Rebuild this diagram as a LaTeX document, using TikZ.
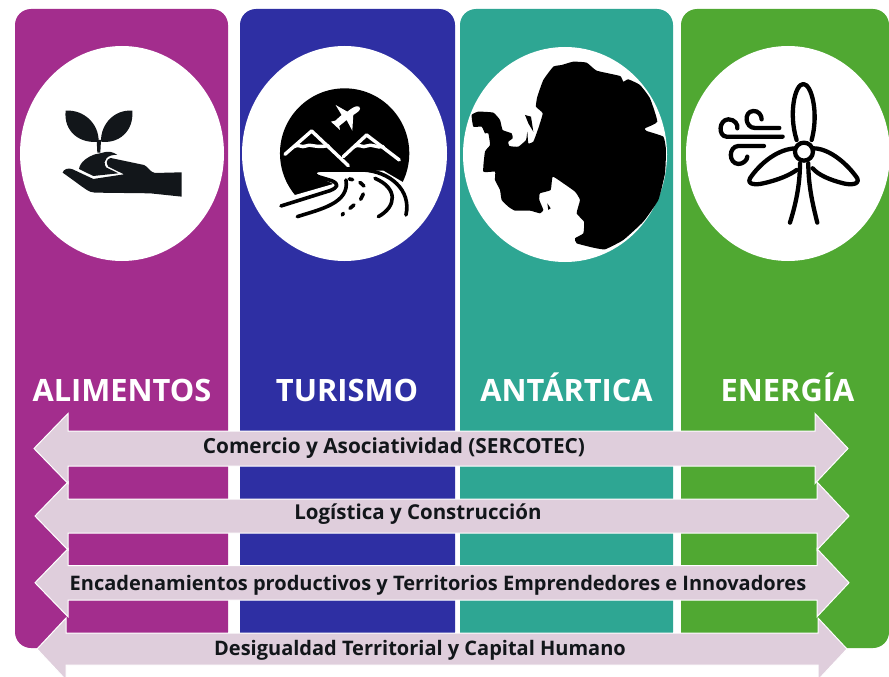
\documentclass[tikz,border=0pt]{standalone}
\usepackage{fontspec}
\setmainfont{Open Sans}
\definecolor{cMag}{HTML}{A32D8D}
\definecolor{cBlu}{HTML}{2E2FA3}
\definecolor{cTea}{HTML}{2EA693}
\definecolor{cGre}{HTML}{50A832}
\definecolor{cArr}{HTML}{DFCEDC}
\definecolor{cInk}{HTML}{12161A}
\tikzset{
  column/.style={fill=#1,rounded corners=16pt,draw=none},
  disc/.style={fill=white,draw=none},
  band/.style={fill=cArr,draw=white,line width=1pt,line join=miter},
  title/.style={text=white,font=\bfseries\fontsize{30.8}{32}\selectfont,inner sep=0pt,anchor=base},
  bandtext/.style={text=cInk,font=\bfseries\fontsize{#1}{22}\selectfont,inner sep=0pt,anchor=base},
  zoomA/.style={x=0.3333pt,y=-0.3333pt},
  icon/.style={line width=4.3pt,line cap=round,line join=round,draw=black,fill=none},
}
\newcommand{\bandarrow}[8]{% name, tipL, baseL, baseR, tipR, ytop shaft, ybot shaft, head half
  \path (#2,{(#6+#7)/2}) coordinate (#1L) (#5,{(#6+#7)/2}) coordinate (#1R);
  \draw[band] (#1L) -- (#3,{(#6+#7)/2-#8}) -- (#3,#6) -- (#4,#6) -- (#4,{(#6+#7)/2-#8})
    -- (#1R) -- (#4,{(#6+#7)/2+#8}) -- (#4,#7) -- (#3,#7) -- (#3,{(#6+#7)/2+#8}) -- cycle;
}
\begin{document}
\begin{tikzpicture}[x=1pt,y=-1pt]
\useasboundingbox (0,0) rectangle (889,677);
\clip (0,0) rectangle (889,677);
\fill[white] (0,0) rectangle (889,677);
% columns
\fill[column=cMag] (15,9) rectangle (228,648);
\fill[column=cBlu] (240,9) rectangle (455,648);
\fill[column=cTea] (460,9) rectangle (673,648);
\fill[column=cGre] (681,9) rectangle (889,648);
% discs
\fill[disc] (122,153.5) ellipse [x radius=102,y radius=107.5];
\fill[disc] (344.5,153.5) ellipse [x radius=102.5,y radius=107.5];
\fill[disc] (565,154.5) ellipse [x radius=102,y radius=107.5];
\fill[disc] (788,153.5) ellipse [x radius=102,y radius=107.5];
% icon 1: hand with sprout
\begin{scope}[zoomA]
\fill[cInk] (197,332) .. controls (250,328) and (297,370) .. (296,425) .. controls (240,432) and (190,395) .. (197,332) -- cycle;
\fill[cInk] (397,332) .. controls (345,328) and (302,370) .. (303,425) .. controls (355,432) and (402,395) .. (397,332) -- cycle;
\fill[cInk] (290,420) -- (303,420) -- (301,458) -- (292,458) -- cycle;
\fill[cInk] (237,507) .. controls (240,485) and (265,470) .. (285,463) .. controls (305,462) and (325,445) .. (352,465)
  .. controls (325,462) and (305,480) .. (318,502) -- (355,520) -- (280,528) -- cycle;
\fill[cInk] (188,518) .. controls (190,508) and (205,502) .. (218,508) -- (280,537) -- (372,523) -- (325,500)
  .. controls (318,490) and (318,478) .. (332,474) -- (432,495) .. controls (445,500) and (450,517) .. (465,519)
  -- (545,517) -- (545,590) -- (450,580) -- (285,578) .. controls (265,578) and (255,565) .. (188,518) -- cycle;
% icon 2: mountains, plane and road
\fill[black] (1034,460) ellipse [x radius=194,y radius=195];
\fill[white] (820,604) -- (875,588) -- (1000,552) -- (945,525) -- (950,508) -- (1150,512) -- (1215,550) -- (1245,560) -- (1245,660) -- (820,660) -- cycle;
\begin{scope}[draw=white,line width=3.4pt,line join=round,line cap=round]
\draw (855,463) -- (935,393) -- (1045,497);
\draw (1030,470) -- (1100,405) -- (1198,480);
\draw (882,440) .. controls (895,430) and (905,445) .. (918,438) .. controls (930,430) and (945,445) .. (985,437);
\draw (1062,440) .. controls (1075,430) and (1090,445) .. (1100,438) .. controls (1115,430) and (1130,445) .. (1150,440);
\end{scope}
\fill[white] (1078,320) .. controls (1085,330) and (1075,335) .. (1060,345) -- (1057,392) -- (1040,360) -- (1018,378) -- (1020,390) -- (993,365) -- (1006,362) -- (1025,345) -- (1007,315) -- (1042,335) .. controls (1055,325) and (1068,315) .. (1078,320) -- cycle;
\begin{scope}[draw=black,line width=3.6pt,line cap=round,line join=round]
\draw (843,618) -- (990,572) .. controls (1015,562) and (1018,552) .. (995,542) -- (955,530) .. controls (935,520) and (945,510) .. (965,510) -- (1090,510) .. controls (1170,515) and (1235,570) .. (1218,645);
\draw (892,650) .. controls (960,628) and (1050,610) .. (1038,540);
\draw (1135,650) .. controls (1190,620) and (1195,565) .. (1125,535);
\draw (1030,640) -- (1027,645);
\draw (1050,625) -- (1062,615);
\draw (1082,598) -- (1090,582);
\draw (1080,547) -- (1092,558);
\draw (1048,537) -- (1058,539);
\end{scope}
\end{scope}
% icon 3: Antarctica
\begin{scope}[xshift=450pt,zoomA]
\fill[black] plot[smooth cycle,tension=0.25] coordinates {(65,345) (85,335) (130,338) (150,360) (158,390) (185,400) (188,415) (175,425) (178,438) (205,440) (228,420) (232,395) (235,430) (250,425) (265,385) (278,340) (258,320) (262,290) (280,240) (310,200) (335,195) (370,185) (410,188) (440,212) (510,228) (520,245) (535,238) (570,255) (600,295) (622,365) (585,385) (590,393) (640,410) (648,450) (645,520) (625,600) (580,665) (520,720) (465,748) (425,742) (380,730) (375,715) (400,700) (402,665) (380,640) (390,600) (375,575) (340,550) (308,530) (302,570) (270,580) (268,600) (280,630) (270,640) (240,632) (195,632) (175,620) (155,600) (150,570) (135,540) (135,515) (100,515) (105,455) (120,435) (115,400) (105,400) (95,380) (70,380)};
\fill[black] (225,345) -- (243,350) -- (250,395) -- (235,370) -- cycle;
\fill[black] (292,610) -- (302,625) -- (295,630) -- cycle;
\end{scope}
% icon 4: wind turbine
\begin{scope}[xshift=450pt,zoomA]
\draw[icon] (1040,420) .. controls (1015,340) and (1035,252) .. (1060,252) .. controls (1085,252) and (1107,340) .. (1085,420);
\draw[icon] (1040,445) .. controls (985,445) and (930,490) .. (900,535) .. controls (890,555) and (920,555) .. (940,550) .. controls (985,540) and (1020,525) .. (1040,510);
\draw[icon] (1090,445) .. controls (1140,445) and (1195,495) .. (1222,535) .. controls (1230,555) and (1200,555) .. (1180,550) .. controls (1140,540) and (1105,525) .. (1088,505);
\draw[icon] (1050,490) .. controls (1050,560) and (1035,620) .. (1020,668);
\draw[icon] (1075,490) .. controls (1075,560) and (1090,620) .. (1102,668);
\draw[icon,fill=white] (1062,455) circle [radius=27];
\draw[icon] (988,384) -- (915,384) .. controls (885,384) and (880,335) .. (910,333) .. controls (925,332) and (935,345) .. (935,358);
\draw[icon] (998,410) -- (830,410) .. controls (805,410) and (805,360) .. (835,358) .. controls (855,358) and (865,375) .. (862,385);
\draw[icon] (942,438) -- (865,438) .. controls (835,440) and (835,490) .. (865,492) .. controls (880,492) and (892,480) .. (892,470);
\end{scope}
% titles
\node[title] (tA) at (122,401.5) {ALIMENTOS};
\node[title] (tB) at (347,401.5) {TURISMO};
\node[title] (tC) at (566.5,401.5) {ANTÁRTICA};
\node[title] (tD) at (787.5,401.5) {ENERGÍA};
% bands
\bandarrow{a}{34}{68}{815}{848}{431}{466}{35}
\bandarrow{b}{35}{68}{817}{849}{499}{533}{34}
\bandarrow{c}{35}{68}{817}{849}{565.5}{600}{34}
\bandarrow{d}{37}{66}{818}{847}{633}{665}{31}
\node[bandtext=20.8] (la) at (394,453) {Comercio y Asociatividad (SERCOTEC)};
\node[bandtext=20.5] (lb) at (418,519) {Logística y Construcción};
\node[bandtext=20] (lc) at (438,590) {Encadenamientos productivos y Territorios Emprendedores e Innovadores};
\node[bandtext=20] (ld) at (420,655) {Desigualdad Territorial y Capital Humano};
\end{tikzpicture}
\end{document}
